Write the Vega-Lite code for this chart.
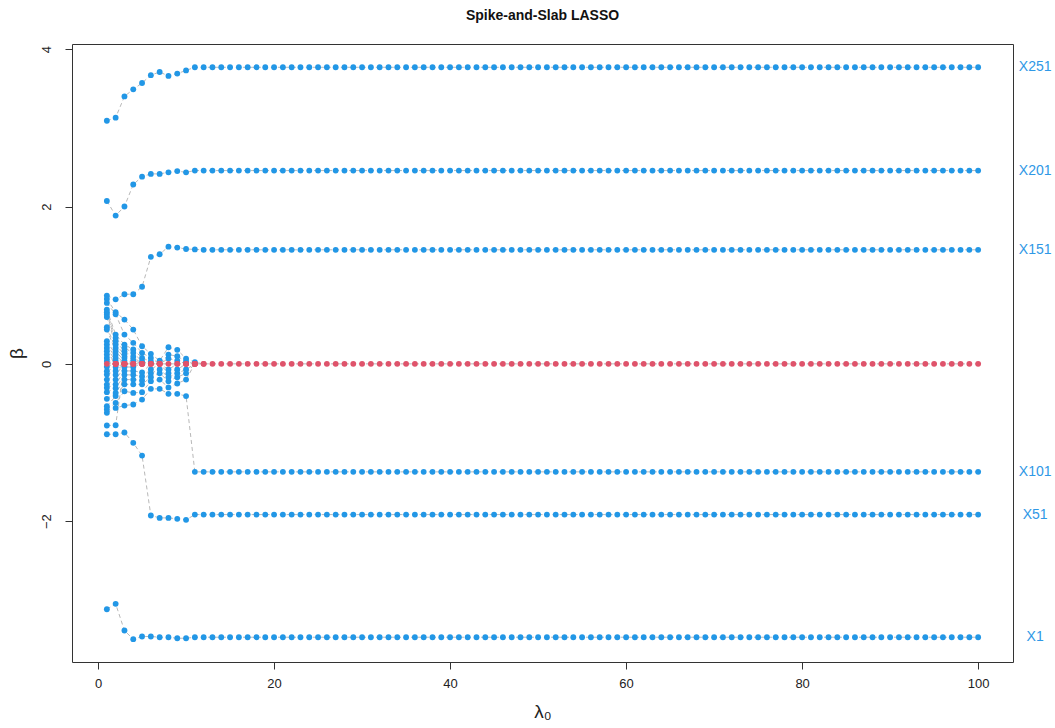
{
  "$schema": "https://vega.github.io/schema/vega-lite/v6.json",
  "autosize": {"type": "none"},
  "padding": {"left": 72, "top": 44, "right": 42, "bottom": 66},
  "width": 941,
  "height": 618,
  "background": "white",
  "config": {
    "font": "Liberation Sans",
    "view": {"stroke": "#333333", "strokeWidth": 1},
    "axis": {"grid": false, "domain": false, "tickColor": "#333333", "tickSize": 7, "labelColor": "#222222", "labelFontSize": 13, "titleColor": "#222222", "titleFontWeight": "normal"}
  },
  "title": {"text": "Spike-and-Slab LASSO", "fontSize": 14, "fontWeight": "bold", "color": "#111111", "anchor": "middle", "frame": "group", "baseline": "alphabetic", "offset": 10},
  "data": {"values": [
    {"lambda":1,"beta":3.09,"coef":"X251"},{"lambda":2,"beta":3.13,"coef":"X251"},{"lambda":3,"beta":3.40,"coef":"X251"},{"lambda":4,"beta":3.49,"coef":"X251"},{"lambda":5,"beta":3.57,"coef":"X251"},{"lambda":6,"beta":3.67,"coef":"X251"},{"lambda":7,"beta":3.71,"coef":"X251"},{"lambda":8,"beta":3.66,"coef":"X251"},{"lambda":9,"beta":3.69,"coef":"X251"},{"lambda":10,"beta":3.73,"coef":"X251"},
    {"lambda":11,"beta":3.77,"coef":"X251"},{"lambda":12,"beta":3.77,"coef":"X251"},{"lambda":13,"beta":3.77,"coef":"X251"},{"lambda":14,"beta":3.77,"coef":"X251"},{"lambda":15,"beta":3.77,"coef":"X251"},{"lambda":16,"beta":3.77,"coef":"X251"},{"lambda":17,"beta":3.77,"coef":"X251"},{"lambda":18,"beta":3.77,"coef":"X251"},{"lambda":19,"beta":3.77,"coef":"X251"},{"lambda":20,"beta":3.77,"coef":"X251"},
    {"lambda":21,"beta":3.77,"coef":"X251"},{"lambda":22,"beta":3.77,"coef":"X251"},{"lambda":23,"beta":3.77,"coef":"X251"},{"lambda":24,"beta":3.77,"coef":"X251"},{"lambda":25,"beta":3.77,"coef":"X251"},{"lambda":26,"beta":3.77,"coef":"X251"},{"lambda":27,"beta":3.77,"coef":"X251"},{"lambda":28,"beta":3.77,"coef":"X251"},{"lambda":29,"beta":3.77,"coef":"X251"},{"lambda":30,"beta":3.77,"coef":"X251"},
    {"lambda":31,"beta":3.77,"coef":"X251"},{"lambda":32,"beta":3.77,"coef":"X251"},{"lambda":33,"beta":3.77,"coef":"X251"},{"lambda":34,"beta":3.77,"coef":"X251"},{"lambda":35,"beta":3.77,"coef":"X251"},{"lambda":36,"beta":3.77,"coef":"X251"},{"lambda":37,"beta":3.77,"coef":"X251"},{"lambda":38,"beta":3.77,"coef":"X251"},{"lambda":39,"beta":3.77,"coef":"X251"},{"lambda":40,"beta":3.77,"coef":"X251"},
    {"lambda":41,"beta":3.77,"coef":"X251"},{"lambda":42,"beta":3.77,"coef":"X251"},{"lambda":43,"beta":3.77,"coef":"X251"},{"lambda":44,"beta":3.77,"coef":"X251"},{"lambda":45,"beta":3.77,"coef":"X251"},{"lambda":46,"beta":3.77,"coef":"X251"},{"lambda":47,"beta":3.77,"coef":"X251"},{"lambda":48,"beta":3.77,"coef":"X251"},{"lambda":49,"beta":3.77,"coef":"X251"},{"lambda":50,"beta":3.77,"coef":"X251"},
    {"lambda":51,"beta":3.77,"coef":"X251"},{"lambda":52,"beta":3.77,"coef":"X251"},{"lambda":53,"beta":3.77,"coef":"X251"},{"lambda":54,"beta":3.77,"coef":"X251"},{"lambda":55,"beta":3.77,"coef":"X251"},{"lambda":56,"beta":3.77,"coef":"X251"},{"lambda":57,"beta":3.77,"coef":"X251"},{"lambda":58,"beta":3.77,"coef":"X251"},{"lambda":59,"beta":3.77,"coef":"X251"},{"lambda":60,"beta":3.77,"coef":"X251"},
    {"lambda":61,"beta":3.77,"coef":"X251"},{"lambda":62,"beta":3.77,"coef":"X251"},{"lambda":63,"beta":3.77,"coef":"X251"},{"lambda":64,"beta":3.77,"coef":"X251"},{"lambda":65,"beta":3.77,"coef":"X251"},{"lambda":66,"beta":3.77,"coef":"X251"},{"lambda":67,"beta":3.77,"coef":"X251"},{"lambda":68,"beta":3.77,"coef":"X251"},{"lambda":69,"beta":3.77,"coef":"X251"},{"lambda":70,"beta":3.77,"coef":"X251"},
    {"lambda":71,"beta":3.77,"coef":"X251"},{"lambda":72,"beta":3.77,"coef":"X251"},{"lambda":73,"beta":3.77,"coef":"X251"},{"lambda":74,"beta":3.77,"coef":"X251"},{"lambda":75,"beta":3.77,"coef":"X251"},{"lambda":76,"beta":3.77,"coef":"X251"},{"lambda":77,"beta":3.77,"coef":"X251"},{"lambda":78,"beta":3.77,"coef":"X251"},{"lambda":79,"beta":3.77,"coef":"X251"},{"lambda":80,"beta":3.77,"coef":"X251"},
    {"lambda":81,"beta":3.77,"coef":"X251"},{"lambda":82,"beta":3.77,"coef":"X251"},{"lambda":83,"beta":3.77,"coef":"X251"},{"lambda":84,"beta":3.77,"coef":"X251"},{"lambda":85,"beta":3.77,"coef":"X251"},{"lambda":86,"beta":3.77,"coef":"X251"},{"lambda":87,"beta":3.77,"coef":"X251"},{"lambda":88,"beta":3.77,"coef":"X251"},{"lambda":89,"beta":3.77,"coef":"X251"},{"lambda":90,"beta":3.77,"coef":"X251"},
    {"lambda":91,"beta":3.77,"coef":"X251"},{"lambda":92,"beta":3.77,"coef":"X251"},{"lambda":93,"beta":3.77,"coef":"X251"},{"lambda":94,"beta":3.77,"coef":"X251"},{"lambda":95,"beta":3.77,"coef":"X251"},{"lambda":96,"beta":3.77,"coef":"X251"},{"lambda":97,"beta":3.77,"coef":"X251"},{"lambda":98,"beta":3.77,"coef":"X251"},{"lambda":99,"beta":3.77,"coef":"X251"},{"lambda":100,"beta":3.77,"coef":"X251"},

    {"lambda":1,"beta":2.07,"coef":"X201"},{"lambda":2,"beta":1.885,"coef":"X201"},{"lambda":3,"beta":2.00,"coef":"X201"},{"lambda":4,"beta":2.28,"coef":"X201"},{"lambda":5,"beta":2.38,"coef":"X201"},{"lambda":6,"beta":2.415,"coef":"X201"},{"lambda":7,"beta":2.415,"coef":"X201"},{"lambda":8,"beta":2.435,"coef":"X201"},{"lambda":9,"beta":2.45,"coef":"X201"},{"lambda":10,"beta":2.435,"coef":"X201"},
    {"lambda":11,"beta":2.457,"coef":"X201"},{"lambda":12,"beta":2.457,"coef":"X201"},{"lambda":13,"beta":2.457,"coef":"X201"},{"lambda":14,"beta":2.457,"coef":"X201"},{"lambda":15,"beta":2.457,"coef":"X201"},{"lambda":16,"beta":2.457,"coef":"X201"},{"lambda":17,"beta":2.457,"coef":"X201"},{"lambda":18,"beta":2.457,"coef":"X201"},{"lambda":19,"beta":2.457,"coef":"X201"},{"lambda":20,"beta":2.457,"coef":"X201"},
    {"lambda":21,"beta":2.457,"coef":"X201"},{"lambda":22,"beta":2.457,"coef":"X201"},{"lambda":23,"beta":2.457,"coef":"X201"},{"lambda":24,"beta":2.457,"coef":"X201"},{"lambda":25,"beta":2.457,"coef":"X201"},{"lambda":26,"beta":2.457,"coef":"X201"},{"lambda":27,"beta":2.457,"coef":"X201"},{"lambda":28,"beta":2.457,"coef":"X201"},{"lambda":29,"beta":2.457,"coef":"X201"},{"lambda":30,"beta":2.457,"coef":"X201"},
    {"lambda":31,"beta":2.457,"coef":"X201"},{"lambda":32,"beta":2.457,"coef":"X201"},{"lambda":33,"beta":2.457,"coef":"X201"},{"lambda":34,"beta":2.457,"coef":"X201"},{"lambda":35,"beta":2.457,"coef":"X201"},{"lambda":36,"beta":2.457,"coef":"X201"},{"lambda":37,"beta":2.457,"coef":"X201"},{"lambda":38,"beta":2.457,"coef":"X201"},{"lambda":39,"beta":2.457,"coef":"X201"},{"lambda":40,"beta":2.457,"coef":"X201"},
    {"lambda":41,"beta":2.457,"coef":"X201"},{"lambda":42,"beta":2.457,"coef":"X201"},{"lambda":43,"beta":2.457,"coef":"X201"},{"lambda":44,"beta":2.457,"coef":"X201"},{"lambda":45,"beta":2.457,"coef":"X201"},{"lambda":46,"beta":2.457,"coef":"X201"},{"lambda":47,"beta":2.457,"coef":"X201"},{"lambda":48,"beta":2.457,"coef":"X201"},{"lambda":49,"beta":2.457,"coef":"X201"},{"lambda":50,"beta":2.457,"coef":"X201"},
    {"lambda":51,"beta":2.457,"coef":"X201"},{"lambda":52,"beta":2.457,"coef":"X201"},{"lambda":53,"beta":2.457,"coef":"X201"},{"lambda":54,"beta":2.457,"coef":"X201"},{"lambda":55,"beta":2.457,"coef":"X201"},{"lambda":56,"beta":2.457,"coef":"X201"},{"lambda":57,"beta":2.457,"coef":"X201"},{"lambda":58,"beta":2.457,"coef":"X201"},{"lambda":59,"beta":2.457,"coef":"X201"},{"lambda":60,"beta":2.457,"coef":"X201"},
    {"lambda":61,"beta":2.457,"coef":"X201"},{"lambda":62,"beta":2.457,"coef":"X201"},{"lambda":63,"beta":2.457,"coef":"X201"},{"lambda":64,"beta":2.457,"coef":"X201"},{"lambda":65,"beta":2.457,"coef":"X201"},{"lambda":66,"beta":2.457,"coef":"X201"},{"lambda":67,"beta":2.457,"coef":"X201"},{"lambda":68,"beta":2.457,"coef":"X201"},{"lambda":69,"beta":2.457,"coef":"X201"},{"lambda":70,"beta":2.457,"coef":"X201"},
    {"lambda":71,"beta":2.457,"coef":"X201"},{"lambda":72,"beta":2.457,"coef":"X201"},{"lambda":73,"beta":2.457,"coef":"X201"},{"lambda":74,"beta":2.457,"coef":"X201"},{"lambda":75,"beta":2.457,"coef":"X201"},{"lambda":76,"beta":2.457,"coef":"X201"},{"lambda":77,"beta":2.457,"coef":"X201"},{"lambda":78,"beta":2.457,"coef":"X201"},{"lambda":79,"beta":2.457,"coef":"X201"},{"lambda":80,"beta":2.457,"coef":"X201"},
    {"lambda":81,"beta":2.457,"coef":"X201"},{"lambda":82,"beta":2.457,"coef":"X201"},{"lambda":83,"beta":2.457,"coef":"X201"},{"lambda":84,"beta":2.457,"coef":"X201"},{"lambda":85,"beta":2.457,"coef":"X201"},{"lambda":86,"beta":2.457,"coef":"X201"},{"lambda":87,"beta":2.457,"coef":"X201"},{"lambda":88,"beta":2.457,"coef":"X201"},{"lambda":89,"beta":2.457,"coef":"X201"},{"lambda":90,"beta":2.457,"coef":"X201"},
    {"lambda":91,"beta":2.457,"coef":"X201"},{"lambda":92,"beta":2.457,"coef":"X201"},{"lambda":93,"beta":2.457,"coef":"X201"},{"lambda":94,"beta":2.457,"coef":"X201"},{"lambda":95,"beta":2.457,"coef":"X201"},{"lambda":96,"beta":2.457,"coef":"X201"},{"lambda":97,"beta":2.457,"coef":"X201"},{"lambda":98,"beta":2.457,"coef":"X201"},{"lambda":99,"beta":2.457,"coef":"X201"},{"lambda":100,"beta":2.457,"coef":"X201"},

    {"lambda":1,"beta":0.868,"coef":"X151"},{"lambda":2,"beta":0.82,"coef":"X151"},{"lambda":3,"beta":0.885,"coef":"X151"},{"lambda":4,"beta":0.885,"coef":"X151"},{"lambda":5,"beta":0.98,"coef":"X151"},{"lambda":6,"beta":1.36,"coef":"X151"},{"lambda":7,"beta":1.393,"coef":"X151"},{"lambda":8,"beta":1.49,"coef":"X151"},{"lambda":9,"beta":1.478,"coef":"X151"},{"lambda":10,"beta":1.46,"coef":"X151"},
    {"lambda":11,"beta":1.455,"coef":"X151"},{"lambda":12,"beta":1.45,"coef":"X151"},{"lambda":13,"beta":1.45,"coef":"X151"},{"lambda":14,"beta":1.45,"coef":"X151"},{"lambda":15,"beta":1.45,"coef":"X151"},{"lambda":16,"beta":1.45,"coef":"X151"},{"lambda":17,"beta":1.45,"coef":"X151"},{"lambda":18,"beta":1.45,"coef":"X151"},{"lambda":19,"beta":1.45,"coef":"X151"},{"lambda":20,"beta":1.45,"coef":"X151"},
    {"lambda":21,"beta":1.45,"coef":"X151"},{"lambda":22,"beta":1.45,"coef":"X151"},{"lambda":23,"beta":1.45,"coef":"X151"},{"lambda":24,"beta":1.45,"coef":"X151"},{"lambda":25,"beta":1.45,"coef":"X151"},{"lambda":26,"beta":1.45,"coef":"X151"},{"lambda":27,"beta":1.45,"coef":"X151"},{"lambda":28,"beta":1.45,"coef":"X151"},{"lambda":29,"beta":1.45,"coef":"X151"},{"lambda":30,"beta":1.45,"coef":"X151"},
    {"lambda":31,"beta":1.45,"coef":"X151"},{"lambda":32,"beta":1.45,"coef":"X151"},{"lambda":33,"beta":1.45,"coef":"X151"},{"lambda":34,"beta":1.45,"coef":"X151"},{"lambda":35,"beta":1.45,"coef":"X151"},{"lambda":36,"beta":1.45,"coef":"X151"},{"lambda":37,"beta":1.45,"coef":"X151"},{"lambda":38,"beta":1.45,"coef":"X151"},{"lambda":39,"beta":1.45,"coef":"X151"},{"lambda":40,"beta":1.45,"coef":"X151"},
    {"lambda":41,"beta":1.45,"coef":"X151"},{"lambda":42,"beta":1.45,"coef":"X151"},{"lambda":43,"beta":1.45,"coef":"X151"},{"lambda":44,"beta":1.45,"coef":"X151"},{"lambda":45,"beta":1.45,"coef":"X151"},{"lambda":46,"beta":1.45,"coef":"X151"},{"lambda":47,"beta":1.45,"coef":"X151"},{"lambda":48,"beta":1.45,"coef":"X151"},{"lambda":49,"beta":1.45,"coef":"X151"},{"lambda":50,"beta":1.45,"coef":"X151"},
    {"lambda":51,"beta":1.45,"coef":"X151"},{"lambda":52,"beta":1.45,"coef":"X151"},{"lambda":53,"beta":1.45,"coef":"X151"},{"lambda":54,"beta":1.45,"coef":"X151"},{"lambda":55,"beta":1.45,"coef":"X151"},{"lambda":56,"beta":1.45,"coef":"X151"},{"lambda":57,"beta":1.45,"coef":"X151"},{"lambda":58,"beta":1.45,"coef":"X151"},{"lambda":59,"beta":1.45,"coef":"X151"},{"lambda":60,"beta":1.45,"coef":"X151"},
    {"lambda":61,"beta":1.45,"coef":"X151"},{"lambda":62,"beta":1.45,"coef":"X151"},{"lambda":63,"beta":1.45,"coef":"X151"},{"lambda":64,"beta":1.45,"coef":"X151"},{"lambda":65,"beta":1.45,"coef":"X151"},{"lambda":66,"beta":1.45,"coef":"X151"},{"lambda":67,"beta":1.45,"coef":"X151"},{"lambda":68,"beta":1.45,"coef":"X151"},{"lambda":69,"beta":1.45,"coef":"X151"},{"lambda":70,"beta":1.45,"coef":"X151"},
    {"lambda":71,"beta":1.45,"coef":"X151"},{"lambda":72,"beta":1.45,"coef":"X151"},{"lambda":73,"beta":1.45,"coef":"X151"},{"lambda":74,"beta":1.45,"coef":"X151"},{"lambda":75,"beta":1.45,"coef":"X151"},{"lambda":76,"beta":1.45,"coef":"X151"},{"lambda":77,"beta":1.45,"coef":"X151"},{"lambda":78,"beta":1.45,"coef":"X151"},{"lambda":79,"beta":1.45,"coef":"X151"},{"lambda":80,"beta":1.45,"coef":"X151"},
    {"lambda":81,"beta":1.45,"coef":"X151"},{"lambda":82,"beta":1.45,"coef":"X151"},{"lambda":83,"beta":1.45,"coef":"X151"},{"lambda":84,"beta":1.45,"coef":"X151"},{"lambda":85,"beta":1.45,"coef":"X151"},{"lambda":86,"beta":1.45,"coef":"X151"},{"lambda":87,"beta":1.45,"coef":"X151"},{"lambda":88,"beta":1.45,"coef":"X151"},{"lambda":89,"beta":1.45,"coef":"X151"},{"lambda":90,"beta":1.45,"coef":"X151"},
    {"lambda":91,"beta":1.45,"coef":"X151"},{"lambda":92,"beta":1.45,"coef":"X151"},{"lambda":93,"beta":1.45,"coef":"X151"},{"lambda":94,"beta":1.45,"coef":"X151"},{"lambda":95,"beta":1.45,"coef":"X151"},{"lambda":96,"beta":1.45,"coef":"X151"},{"lambda":97,"beta":1.45,"coef":"X151"},{"lambda":98,"beta":1.45,"coef":"X151"},{"lambda":99,"beta":1.45,"coef":"X151"},{"lambda":100,"beta":1.45,"coef":"X151"},

    {"lambda":1,"beta":-0.623,"coef":"X101"},{"lambda":2,"beta":-0.56,"coef":"X101"},{"lambda":3,"beta":-0.53,"coef":"X101"},{"lambda":4,"beta":-0.517,"coef":"X101"},{"lambda":5,"beta":-0.454,"coef":"X101"},{"lambda":6,"beta":-0.318,"coef":"X101"},{"lambda":7,"beta":-0.318,"coef":"X101"},{"lambda":8,"beta":-0.381,"coef":"X101"},{"lambda":9,"beta":-0.381,"coef":"X101"},{"lambda":10,"beta":-0.41,"coef":"X101"},
    {"lambda":11,"beta":-1.373,"coef":"X101"},{"lambda":12,"beta":-1.373,"coef":"X101"},{"lambda":13,"beta":-1.373,"coef":"X101"},{"lambda":14,"beta":-1.373,"coef":"X101"},{"lambda":15,"beta":-1.373,"coef":"X101"},{"lambda":16,"beta":-1.373,"coef":"X101"},{"lambda":17,"beta":-1.373,"coef":"X101"},{"lambda":18,"beta":-1.373,"coef":"X101"},{"lambda":19,"beta":-1.373,"coef":"X101"},{"lambda":20,"beta":-1.373,"coef":"X101"},
    {"lambda":21,"beta":-1.373,"coef":"X101"},{"lambda":22,"beta":-1.373,"coef":"X101"},{"lambda":23,"beta":-1.373,"coef":"X101"},{"lambda":24,"beta":-1.373,"coef":"X101"},{"lambda":25,"beta":-1.373,"coef":"X101"},{"lambda":26,"beta":-1.373,"coef":"X101"},{"lambda":27,"beta":-1.373,"coef":"X101"},{"lambda":28,"beta":-1.373,"coef":"X101"},{"lambda":29,"beta":-1.373,"coef":"X101"},{"lambda":30,"beta":-1.373,"coef":"X101"},
    {"lambda":31,"beta":-1.373,"coef":"X101"},{"lambda":32,"beta":-1.373,"coef":"X101"},{"lambda":33,"beta":-1.373,"coef":"X101"},{"lambda":34,"beta":-1.373,"coef":"X101"},{"lambda":35,"beta":-1.373,"coef":"X101"},{"lambda":36,"beta":-1.373,"coef":"X101"},{"lambda":37,"beta":-1.373,"coef":"X101"},{"lambda":38,"beta":-1.373,"coef":"X101"},{"lambda":39,"beta":-1.373,"coef":"X101"},{"lambda":40,"beta":-1.373,"coef":"X101"},
    {"lambda":41,"beta":-1.373,"coef":"X101"},{"lambda":42,"beta":-1.373,"coef":"X101"},{"lambda":43,"beta":-1.373,"coef":"X101"},{"lambda":44,"beta":-1.373,"coef":"X101"},{"lambda":45,"beta":-1.373,"coef":"X101"},{"lambda":46,"beta":-1.373,"coef":"X101"},{"lambda":47,"beta":-1.373,"coef":"X101"},{"lambda":48,"beta":-1.373,"coef":"X101"},{"lambda":49,"beta":-1.373,"coef":"X101"},{"lambda":50,"beta":-1.373,"coef":"X101"},
    {"lambda":51,"beta":-1.373,"coef":"X101"},{"lambda":52,"beta":-1.373,"coef":"X101"},{"lambda":53,"beta":-1.373,"coef":"X101"},{"lambda":54,"beta":-1.373,"coef":"X101"},{"lambda":55,"beta":-1.373,"coef":"X101"},{"lambda":56,"beta":-1.373,"coef":"X101"},{"lambda":57,"beta":-1.373,"coef":"X101"},{"lambda":58,"beta":-1.373,"coef":"X101"},{"lambda":59,"beta":-1.373,"coef":"X101"},{"lambda":60,"beta":-1.373,"coef":"X101"},
    {"lambda":61,"beta":-1.373,"coef":"X101"},{"lambda":62,"beta":-1.373,"coef":"X101"},{"lambda":63,"beta":-1.373,"coef":"X101"},{"lambda":64,"beta":-1.373,"coef":"X101"},{"lambda":65,"beta":-1.373,"coef":"X101"},{"lambda":66,"beta":-1.373,"coef":"X101"},{"lambda":67,"beta":-1.373,"coef":"X101"},{"lambda":68,"beta":-1.373,"coef":"X101"},{"lambda":69,"beta":-1.373,"coef":"X101"},{"lambda":70,"beta":-1.373,"coef":"X101"},
    {"lambda":71,"beta":-1.373,"coef":"X101"},{"lambda":72,"beta":-1.373,"coef":"X101"},{"lambda":73,"beta":-1.373,"coef":"X101"},{"lambda":74,"beta":-1.373,"coef":"X101"},{"lambda":75,"beta":-1.373,"coef":"X101"},{"lambda":76,"beta":-1.373,"coef":"X101"},{"lambda":77,"beta":-1.373,"coef":"X101"},{"lambda":78,"beta":-1.373,"coef":"X101"},{"lambda":79,"beta":-1.373,"coef":"X101"},{"lambda":80,"beta":-1.373,"coef":"X101"},
    {"lambda":81,"beta":-1.373,"coef":"X101"},{"lambda":82,"beta":-1.373,"coef":"X101"},{"lambda":83,"beta":-1.373,"coef":"X101"},{"lambda":84,"beta":-1.373,"coef":"X101"},{"lambda":85,"beta":-1.373,"coef":"X101"},{"lambda":86,"beta":-1.373,"coef":"X101"},{"lambda":87,"beta":-1.373,"coef":"X101"},{"lambda":88,"beta":-1.373,"coef":"X101"},{"lambda":89,"beta":-1.373,"coef":"X101"},{"lambda":90,"beta":-1.373,"coef":"X101"},
    {"lambda":91,"beta":-1.373,"coef":"X101"},{"lambda":92,"beta":-1.373,"coef":"X101"},{"lambda":93,"beta":-1.373,"coef":"X101"},{"lambda":94,"beta":-1.373,"coef":"X101"},{"lambda":95,"beta":-1.373,"coef":"X101"},{"lambda":96,"beta":-1.373,"coef":"X101"},{"lambda":97,"beta":-1.373,"coef":"X101"},{"lambda":98,"beta":-1.373,"coef":"X101"},{"lambda":99,"beta":-1.373,"coef":"X101"},{"lambda":100,"beta":-1.373,"coef":"X101"},

    {"lambda":1,"beta":-0.895,"coef":"X51"},{"lambda":2,"beta":-0.895,"coef":"X51"},{"lambda":3,"beta":-0.873,"coef":"X51"},{"lambda":4,"beta":-1.004,"coef":"X51"},{"lambda":5,"beta":-1.166,"coef":"X51"},{"lambda":6,"beta":-1.928,"coef":"X51"},{"lambda":7,"beta":-1.958,"coef":"X51"},{"lambda":8,"beta":-1.958,"coef":"X51"},{"lambda":9,"beta":-1.97,"coef":"X51"},{"lambda":10,"beta":-1.983,"coef":"X51"},
    {"lambda":11,"beta":-1.916,"coef":"X51"},{"lambda":12,"beta":-1.916,"coef":"X51"},{"lambda":13,"beta":-1.916,"coef":"X51"},{"lambda":14,"beta":-1.916,"coef":"X51"},{"lambda":15,"beta":-1.916,"coef":"X51"},{"lambda":16,"beta":-1.916,"coef":"X51"},{"lambda":17,"beta":-1.916,"coef":"X51"},{"lambda":18,"beta":-1.916,"coef":"X51"},{"lambda":19,"beta":-1.916,"coef":"X51"},{"lambda":20,"beta":-1.916,"coef":"X51"},
    {"lambda":21,"beta":-1.916,"coef":"X51"},{"lambda":22,"beta":-1.916,"coef":"X51"},{"lambda":23,"beta":-1.916,"coef":"X51"},{"lambda":24,"beta":-1.916,"coef":"X51"},{"lambda":25,"beta":-1.916,"coef":"X51"},{"lambda":26,"beta":-1.916,"coef":"X51"},{"lambda":27,"beta":-1.916,"coef":"X51"},{"lambda":28,"beta":-1.916,"coef":"X51"},{"lambda":29,"beta":-1.916,"coef":"X51"},{"lambda":30,"beta":-1.916,"coef":"X51"},
    {"lambda":31,"beta":-1.916,"coef":"X51"},{"lambda":32,"beta":-1.916,"coef":"X51"},{"lambda":33,"beta":-1.916,"coef":"X51"},{"lambda":34,"beta":-1.916,"coef":"X51"},{"lambda":35,"beta":-1.916,"coef":"X51"},{"lambda":36,"beta":-1.916,"coef":"X51"},{"lambda":37,"beta":-1.916,"coef":"X51"},{"lambda":38,"beta":-1.916,"coef":"X51"},{"lambda":39,"beta":-1.916,"coef":"X51"},{"lambda":40,"beta":-1.916,"coef":"X51"},
    {"lambda":41,"beta":-1.916,"coef":"X51"},{"lambda":42,"beta":-1.916,"coef":"X51"},{"lambda":43,"beta":-1.916,"coef":"X51"},{"lambda":44,"beta":-1.916,"coef":"X51"},{"lambda":45,"beta":-1.916,"coef":"X51"},{"lambda":46,"beta":-1.916,"coef":"X51"},{"lambda":47,"beta":-1.916,"coef":"X51"},{"lambda":48,"beta":-1.916,"coef":"X51"},{"lambda":49,"beta":-1.916,"coef":"X51"},{"lambda":50,"beta":-1.916,"coef":"X51"},
    {"lambda":51,"beta":-1.916,"coef":"X51"},{"lambda":52,"beta":-1.916,"coef":"X51"},{"lambda":53,"beta":-1.916,"coef":"X51"},{"lambda":54,"beta":-1.916,"coef":"X51"},{"lambda":55,"beta":-1.916,"coef":"X51"},{"lambda":56,"beta":-1.916,"coef":"X51"},{"lambda":57,"beta":-1.916,"coef":"X51"},{"lambda":58,"beta":-1.916,"coef":"X51"},{"lambda":59,"beta":-1.916,"coef":"X51"},{"lambda":60,"beta":-1.916,"coef":"X51"},
    {"lambda":61,"beta":-1.916,"coef":"X51"},{"lambda":62,"beta":-1.916,"coef":"X51"},{"lambda":63,"beta":-1.916,"coef":"X51"},{"lambda":64,"beta":-1.916,"coef":"X51"},{"lambda":65,"beta":-1.916,"coef":"X51"},{"lambda":66,"beta":-1.916,"coef":"X51"},{"lambda":67,"beta":-1.916,"coef":"X51"},{"lambda":68,"beta":-1.916,"coef":"X51"},{"lambda":69,"beta":-1.916,"coef":"X51"},{"lambda":70,"beta":-1.916,"coef":"X51"},
    {"lambda":71,"beta":-1.916,"coef":"X51"},{"lambda":72,"beta":-1.916,"coef":"X51"},{"lambda":73,"beta":-1.916,"coef":"X51"},{"lambda":74,"beta":-1.916,"coef":"X51"},{"lambda":75,"beta":-1.916,"coef":"X51"},{"lambda":76,"beta":-1.916,"coef":"X51"},{"lambda":77,"beta":-1.916,"coef":"X51"},{"lambda":78,"beta":-1.916,"coef":"X51"},{"lambda":79,"beta":-1.916,"coef":"X51"},{"lambda":80,"beta":-1.916,"coef":"X51"},
    {"lambda":81,"beta":-1.916,"coef":"X51"},{"lambda":82,"beta":-1.916,"coef":"X51"},{"lambda":83,"beta":-1.916,"coef":"X51"},{"lambda":84,"beta":-1.916,"coef":"X51"},{"lambda":85,"beta":-1.916,"coef":"X51"},{"lambda":86,"beta":-1.916,"coef":"X51"},{"lambda":87,"beta":-1.916,"coef":"X51"},{"lambda":88,"beta":-1.916,"coef":"X51"},{"lambda":89,"beta":-1.916,"coef":"X51"},{"lambda":90,"beta":-1.916,"coef":"X51"},
    {"lambda":91,"beta":-1.916,"coef":"X51"},{"lambda":92,"beta":-1.916,"coef":"X51"},{"lambda":93,"beta":-1.916,"coef":"X51"},{"lambda":94,"beta":-1.916,"coef":"X51"},{"lambda":95,"beta":-1.916,"coef":"X51"},{"lambda":96,"beta":-1.916,"coef":"X51"},{"lambda":97,"beta":-1.916,"coef":"X51"},{"lambda":98,"beta":-1.916,"coef":"X51"},{"lambda":99,"beta":-1.916,"coef":"X51"},{"lambda":100,"beta":-1.916,"coef":"X51"},

    {"lambda":1,"beta":-3.119,"coef":"X1"},{"lambda":2,"beta":-3.051,"coef":"X1"},{"lambda":3,"beta":-3.39,"coef":"X1"},{"lambda":4,"beta":-3.50,"coef":"X1"},{"lambda":5,"beta":-3.466,"coef":"X1"},{"lambda":6,"beta":-3.466,"coef":"X1"},{"lambda":7,"beta":-3.475,"coef":"X1"},{"lambda":8,"beta":-3.475,"coef":"X1"},{"lambda":9,"beta":-3.488,"coef":"X1"},{"lambda":10,"beta":-3.488,"coef":"X1"},
    {"lambda":11,"beta":-3.475,"coef":"X1"},{"lambda":12,"beta":-3.475,"coef":"X1"},{"lambda":13,"beta":-3.475,"coef":"X1"},{"lambda":14,"beta":-3.475,"coef":"X1"},{"lambda":15,"beta":-3.475,"coef":"X1"},{"lambda":16,"beta":-3.475,"coef":"X1"},{"lambda":17,"beta":-3.475,"coef":"X1"},{"lambda":18,"beta":-3.475,"coef":"X1"},{"lambda":19,"beta":-3.475,"coef":"X1"},{"lambda":20,"beta":-3.475,"coef":"X1"},
    {"lambda":21,"beta":-3.475,"coef":"X1"},{"lambda":22,"beta":-3.475,"coef":"X1"},{"lambda":23,"beta":-3.475,"coef":"X1"},{"lambda":24,"beta":-3.475,"coef":"X1"},{"lambda":25,"beta":-3.475,"coef":"X1"},{"lambda":26,"beta":-3.475,"coef":"X1"},{"lambda":27,"beta":-3.475,"coef":"X1"},{"lambda":28,"beta":-3.475,"coef":"X1"},{"lambda":29,"beta":-3.475,"coef":"X1"},{"lambda":30,"beta":-3.475,"coef":"X1"},
    {"lambda":31,"beta":-3.475,"coef":"X1"},{"lambda":32,"beta":-3.475,"coef":"X1"},{"lambda":33,"beta":-3.475,"coef":"X1"},{"lambda":34,"beta":-3.475,"coef":"X1"},{"lambda":35,"beta":-3.475,"coef":"X1"},{"lambda":36,"beta":-3.475,"coef":"X1"},{"lambda":37,"beta":-3.475,"coef":"X1"},{"lambda":38,"beta":-3.475,"coef":"X1"},{"lambda":39,"beta":-3.475,"coef":"X1"},{"lambda":40,"beta":-3.475,"coef":"X1"},
    {"lambda":41,"beta":-3.475,"coef":"X1"},{"lambda":42,"beta":-3.475,"coef":"X1"},{"lambda":43,"beta":-3.475,"coef":"X1"},{"lambda":44,"beta":-3.475,"coef":"X1"},{"lambda":45,"beta":-3.475,"coef":"X1"},{"lambda":46,"beta":-3.475,"coef":"X1"},{"lambda":47,"beta":-3.475,"coef":"X1"},{"lambda":48,"beta":-3.475,"coef":"X1"},{"lambda":49,"beta":-3.475,"coef":"X1"},{"lambda":50,"beta":-3.475,"coef":"X1"},
    {"lambda":51,"beta":-3.475,"coef":"X1"},{"lambda":52,"beta":-3.475,"coef":"X1"},{"lambda":53,"beta":-3.475,"coef":"X1"},{"lambda":54,"beta":-3.475,"coef":"X1"},{"lambda":55,"beta":-3.475,"coef":"X1"},{"lambda":56,"beta":-3.475,"coef":"X1"},{"lambda":57,"beta":-3.475,"coef":"X1"},{"lambda":58,"beta":-3.475,"coef":"X1"},{"lambda":59,"beta":-3.475,"coef":"X1"},{"lambda":60,"beta":-3.475,"coef":"X1"},
    {"lambda":61,"beta":-3.475,"coef":"X1"},{"lambda":62,"beta":-3.475,"coef":"X1"},{"lambda":63,"beta":-3.475,"coef":"X1"},{"lambda":64,"beta":-3.475,"coef":"X1"},{"lambda":65,"beta":-3.475,"coef":"X1"},{"lambda":66,"beta":-3.475,"coef":"X1"},{"lambda":67,"beta":-3.475,"coef":"X1"},{"lambda":68,"beta":-3.475,"coef":"X1"},{"lambda":69,"beta":-3.475,"coef":"X1"},{"lambda":70,"beta":-3.475,"coef":"X1"},
    {"lambda":71,"beta":-3.475,"coef":"X1"},{"lambda":72,"beta":-3.475,"coef":"X1"},{"lambda":73,"beta":-3.475,"coef":"X1"},{"lambda":74,"beta":-3.475,"coef":"X1"},{"lambda":75,"beta":-3.475,"coef":"X1"},{"lambda":76,"beta":-3.475,"coef":"X1"},{"lambda":77,"beta":-3.475,"coef":"X1"},{"lambda":78,"beta":-3.475,"coef":"X1"},{"lambda":79,"beta":-3.475,"coef":"X1"},{"lambda":80,"beta":-3.475,"coef":"X1"},
    {"lambda":81,"beta":-3.475,"coef":"X1"},{"lambda":82,"beta":-3.475,"coef":"X1"},{"lambda":83,"beta":-3.475,"coef":"X1"},{"lambda":84,"beta":-3.475,"coef":"X1"},{"lambda":85,"beta":-3.475,"coef":"X1"},{"lambda":86,"beta":-3.475,"coef":"X1"},{"lambda":87,"beta":-3.475,"coef":"X1"},{"lambda":88,"beta":-3.475,"coef":"X1"},{"lambda":89,"beta":-3.475,"coef":"X1"},{"lambda":90,"beta":-3.475,"coef":"X1"},
    {"lambda":91,"beta":-3.475,"coef":"X1"},{"lambda":92,"beta":-3.475,"coef":"X1"},{"lambda":93,"beta":-3.475,"coef":"X1"},{"lambda":94,"beta":-3.475,"coef":"X1"},{"lambda":95,"beta":-3.475,"coef":"X1"},{"lambda":96,"beta":-3.475,"coef":"X1"},{"lambda":97,"beta":-3.475,"coef":"X1"},{"lambda":98,"beta":-3.475,"coef":"X1"},{"lambda":99,"beta":-3.475,"coef":"X1"},{"lambda":100,"beta":-3.475,"coef":"X1"},

    {"lambda":1,"beta":0.826,"coef":"P1"},{"lambda":2,"beta":0.656,"coef":"P1"},{"lambda":3,"beta":0.563,"coef":"P1"},{"lambda":4,"beta":0.436,"coef":"P1"},{"lambda":5,"beta":0.224,"coef":"P1"},{"lambda":6,"beta":0.127,"coef":"P1"},{"lambda":7,"beta":0.04,"coef":"P1"},{"lambda":8,"beta":0.211,"coef":"P1"},{"lambda":9,"beta":0.178,"coef":"P1"},{"lambda":10,"beta":0.067,"coef":"P1"},{"lambda":11,"beta":0.02,"coef":"P1"},{"lambda":12,"beta":0,"coef":"P1"},
    {"lambda":1,"beta":0.775,"coef":"P2"},{"lambda":2,"beta":0.63,"coef":"P2"},{"lambda":3,"beta":0.372,"coef":"P2"},{"lambda":4,"beta":0.267,"coef":"P2"},{"lambda":5,"beta":0.14,"coef":"P2"},{"lambda":6,"beta":0.076,"coef":"P2"},{"lambda":7,"beta":0,"coef":"P2"},{"lambda":8,"beta":0.118,"coef":"P2"},{"lambda":9,"beta":0.097,"coef":"P2"},{"lambda":10,"beta":0.03,"coef":"P2"},{"lambda":11,"beta":0,"coef":"P2"},
    {"lambda":1,"beta":0.69,"coef":"P3"},{"lambda":2,"beta":0.372,"coef":"P3"},{"lambda":3,"beta":0.245,"coef":"P3"},{"lambda":4,"beta":0.182,"coef":"P3"},{"lambda":5,"beta":0.076,"coef":"P3"},{"lambda":6,"beta":0.03,"coef":"P3"},{"lambda":7,"beta":0,"coef":"P3"},{"lambda":8,"beta":0.067,"coef":"P3"},{"lambda":9,"beta":0.04,"coef":"P3"},{"lambda":10,"beta":0,"coef":"P3"},
    {"lambda":1,"beta":0.656,"coef":"P4"},{"lambda":2,"beta":0.33,"coef":"P4"},{"lambda":3,"beta":0.203,"coef":"P4"},{"lambda":4,"beta":0.14,"coef":"P4"},{"lambda":5,"beta":0.03,"coef":"P4"},{"lambda":6,"beta":0,"coef":"P4"},
    {"lambda":1,"beta":0.627,"coef":"P5"},{"lambda":2,"beta":0.288,"coef":"P5"},{"lambda":3,"beta":0.161,"coef":"P5"},{"lambda":4,"beta":0.09,"coef":"P5"},{"lambda":5,"beta":0,"coef":"P5"},
    {"lambda":1,"beta":0.595,"coef":"P6"},{"lambda":2,"beta":0.245,"coef":"P6"},{"lambda":3,"beta":0.118,"coef":"P6"},{"lambda":4,"beta":0.045,"coef":"P6"},{"lambda":5,"beta":0,"coef":"P6"},
    {"lambda":1,"beta":0.466,"coef":"P7"},{"lambda":2,"beta":0.203,"coef":"P7"},{"lambda":3,"beta":0.076,"coef":"P7"},{"lambda":4,"beta":0,"coef":"P7"},
    {"lambda":1,"beta":0.436,"coef":"P8"},{"lambda":2,"beta":0.161,"coef":"P8"},{"lambda":3,"beta":0.035,"coef":"P8"},{"lambda":4,"beta":0,"coef":"P8"},
    {"lambda":1,"beta":0.288,"coef":"P9"},{"lambda":2,"beta":0.118,"coef":"P9"},{"lambda":3,"beta":0,"coef":"P9"},
    {"lambda":1,"beta":0.245,"coef":"P10"},{"lambda":2,"beta":0.076,"coef":"P10"},{"lambda":3,"beta":0,"coef":"P10"},
    {"lambda":1,"beta":0.203,"coef":"P11"},{"lambda":2,"beta":0.035,"coef":"P11"},{"lambda":3,"beta":0,"coef":"P11"},
    {"lambda":1,"beta":0.161,"coef":"P12"},{"lambda":2,"beta":0,"coef":"P12"},
    {"lambda":1,"beta":0.118,"coef":"P13"},{"lambda":2,"beta":0,"coef":"P13"},
    {"lambda":1,"beta":0.076,"coef":"P14"},{"lambda":2,"beta":0,"coef":"P14"},
    {"lambda":1,"beta":0.035,"coef":"P15"},{"lambda":2,"beta":0,"coef":"P15"},
    {"lambda":1,"beta":-0.784,"coef":"N1"},{"lambda":2,"beta":-0.78,"coef":"N1"},{"lambda":3,"beta":0,"coef":"N1"},
    {"lambda":1,"beta":-0.58,"coef":"N2"},{"lambda":2,"beta":-0.496,"coef":"N2"},{"lambda":3,"beta":-0.348,"coef":"N2"},{"lambda":4,"beta":-0.369,"coef":"N2"},{"lambda":5,"beta":-0.36,"coef":"N2"},{"lambda":6,"beta":-0.22,"coef":"N2"},{"lambda":7,"beta":-0.2,"coef":"N2"},{"lambda":8,"beta":-0.3,"coef":"N2"},{"lambda":9,"beta":-0.25,"coef":"N2"},{"lambda":10,"beta":-0.2,"coef":"N2"},{"lambda":11,"beta":0,"coef":"N2"},
    {"lambda":1,"beta":-0.539,"coef":"N3"},{"lambda":2,"beta":-0.41,"coef":"N3"},{"lambda":3,"beta":-0.26,"coef":"N3"},{"lambda":4,"beta":-0.26,"coef":"N3"},{"lambda":5,"beta":-0.26,"coef":"N3"},{"lambda":6,"beta":-0.17,"coef":"N3"},{"lambda":7,"beta":-0.12,"coef":"N3"},{"lambda":8,"beta":-0.22,"coef":"N3"},{"lambda":9,"beta":-0.17,"coef":"N3"},{"lambda":10,"beta":-0.12,"coef":"N3"},{"lambda":11,"beta":0,"coef":"N3"},
    {"lambda":1,"beta":-0.445,"coef":"N4"},{"lambda":2,"beta":-0.369,"coef":"N4"},{"lambda":3,"beta":-0.2,"coef":"N4"},{"lambda":4,"beta":-0.2,"coef":"N4"},{"lambda":5,"beta":-0.21,"coef":"N4"},{"lambda":6,"beta":-0.12,"coef":"N4"},{"lambda":7,"beta":-0.072,"coef":"N4"},{"lambda":8,"beta":-0.17,"coef":"N4"},{"lambda":9,"beta":-0.12,"coef":"N4"},{"lambda":10,"beta":-0.072,"coef":"N4"},{"lambda":11,"beta":0,"coef":"N4"},
    {"lambda":1,"beta":-0.36,"coef":"N5"},{"lambda":2,"beta":-0.31,"coef":"N5"},{"lambda":3,"beta":-0.14,"coef":"N5"},{"lambda":4,"beta":-0.14,"coef":"N5"},{"lambda":5,"beta":-0.16,"coef":"N5"},{"lambda":6,"beta":-0.072,"coef":"N5"},{"lambda":7,"beta":0,"coef":"N5"},{"lambda":8,"beta":-0.12,"coef":"N5"},{"lambda":9,"beta":-0.072,"coef":"N5"},{"lambda":10,"beta":0,"coef":"N5"},
    {"lambda":1,"beta":-0.305,"coef":"N6"},{"lambda":2,"beta":-0.26,"coef":"N6"},{"lambda":3,"beta":-0.09,"coef":"N6"},{"lambda":4,"beta":-0.09,"coef":"N6"},{"lambda":5,"beta":-0.11,"coef":"N6"},{"lambda":6,"beta":0,"coef":"N6"},{"lambda":7,"beta":0,"coef":"N6"},{"lambda":8,"beta":-0.072,"coef":"N6"},{"lambda":9,"beta":0,"coef":"N6"},
    {"lambda":1,"beta":-0.263,"coef":"N7"},{"lambda":2,"beta":-0.2,"coef":"N7"},{"lambda":3,"beta":-0.04,"coef":"N7"},{"lambda":4,"beta":-0.04,"coef":"N7"},{"lambda":5,"beta":0,"coef":"N7"},
    {"lambda":1,"beta":-0.2,"coef":"N8"},{"lambda":2,"beta":-0.14,"coef":"N8"},{"lambda":3,"beta":0,"coef":"N8"},
    {"lambda":1,"beta":-0.136,"coef":"N9"},{"lambda":2,"beta":-0.09,"coef":"N9"},{"lambda":3,"beta":0,"coef":"N9"},
    {"lambda":1,"beta":-0.094,"coef":"N10"},{"lambda":2,"beta":-0.04,"coef":"N10"},{"lambda":3,"beta":0,"coef":"N10"},
    {"lambda":1,"beta":-0.038,"coef":"N11"},{"lambda":2,"beta":0,"coef":"N11"},

    {"lambda":1,"beta":0,"coef":"Z"},{"lambda":2,"beta":0,"coef":"Z"},{"lambda":3,"beta":0,"coef":"Z"},{"lambda":4,"beta":0,"coef":"Z"},{"lambda":5,"beta":0,"coef":"Z"},{"lambda":6,"beta":0,"coef":"Z"},{"lambda":7,"beta":0,"coef":"Z"},{"lambda":8,"beta":0,"coef":"Z"},{"lambda":9,"beta":0,"coef":"Z"},{"lambda":10,"beta":0,"coef":"Z"},
    {"lambda":11,"beta":0,"coef":"Z"},{"lambda":12,"beta":0,"coef":"Z"},{"lambda":13,"beta":0,"coef":"Z"},{"lambda":14,"beta":0,"coef":"Z"},{"lambda":15,"beta":0,"coef":"Z"},{"lambda":16,"beta":0,"coef":"Z"},{"lambda":17,"beta":0,"coef":"Z"},{"lambda":18,"beta":0,"coef":"Z"},{"lambda":19,"beta":0,"coef":"Z"},{"lambda":20,"beta":0,"coef":"Z"},
    {"lambda":21,"beta":0,"coef":"Z"},{"lambda":22,"beta":0,"coef":"Z"},{"lambda":23,"beta":0,"coef":"Z"},{"lambda":24,"beta":0,"coef":"Z"},{"lambda":25,"beta":0,"coef":"Z"},{"lambda":26,"beta":0,"coef":"Z"},{"lambda":27,"beta":0,"coef":"Z"},{"lambda":28,"beta":0,"coef":"Z"},{"lambda":29,"beta":0,"coef":"Z"},{"lambda":30,"beta":0,"coef":"Z"},
    {"lambda":31,"beta":0,"coef":"Z"},{"lambda":32,"beta":0,"coef":"Z"},{"lambda":33,"beta":0,"coef":"Z"},{"lambda":34,"beta":0,"coef":"Z"},{"lambda":35,"beta":0,"coef":"Z"},{"lambda":36,"beta":0,"coef":"Z"},{"lambda":37,"beta":0,"coef":"Z"},{"lambda":38,"beta":0,"coef":"Z"},{"lambda":39,"beta":0,"coef":"Z"},{"lambda":40,"beta":0,"coef":"Z"},
    {"lambda":41,"beta":0,"coef":"Z"},{"lambda":42,"beta":0,"coef":"Z"},{"lambda":43,"beta":0,"coef":"Z"},{"lambda":44,"beta":0,"coef":"Z"},{"lambda":45,"beta":0,"coef":"Z"},{"lambda":46,"beta":0,"coef":"Z"},{"lambda":47,"beta":0,"coef":"Z"},{"lambda":48,"beta":0,"coef":"Z"},{"lambda":49,"beta":0,"coef":"Z"},{"lambda":50,"beta":0,"coef":"Z"},
    {"lambda":51,"beta":0,"coef":"Z"},{"lambda":52,"beta":0,"coef":"Z"},{"lambda":53,"beta":0,"coef":"Z"},{"lambda":54,"beta":0,"coef":"Z"},{"lambda":55,"beta":0,"coef":"Z"},{"lambda":56,"beta":0,"coef":"Z"},{"lambda":57,"beta":0,"coef":"Z"},{"lambda":58,"beta":0,"coef":"Z"},{"lambda":59,"beta":0,"coef":"Z"},{"lambda":60,"beta":0,"coef":"Z"},
    {"lambda":61,"beta":0,"coef":"Z"},{"lambda":62,"beta":0,"coef":"Z"},{"lambda":63,"beta":0,"coef":"Z"},{"lambda":64,"beta":0,"coef":"Z"},{"lambda":65,"beta":0,"coef":"Z"},{"lambda":66,"beta":0,"coef":"Z"},{"lambda":67,"beta":0,"coef":"Z"},{"lambda":68,"beta":0,"coef":"Z"},{"lambda":69,"beta":0,"coef":"Z"},{"lambda":70,"beta":0,"coef":"Z"},
    {"lambda":71,"beta":0,"coef":"Z"},{"lambda":72,"beta":0,"coef":"Z"},{"lambda":73,"beta":0,"coef":"Z"},{"lambda":74,"beta":0,"coef":"Z"},{"lambda":75,"beta":0,"coef":"Z"},{"lambda":76,"beta":0,"coef":"Z"},{"lambda":77,"beta":0,"coef":"Z"},{"lambda":78,"beta":0,"coef":"Z"},{"lambda":79,"beta":0,"coef":"Z"},{"lambda":80,"beta":0,"coef":"Z"},
    {"lambda":81,"beta":0,"coef":"Z"},{"lambda":82,"beta":0,"coef":"Z"},{"lambda":83,"beta":0,"coef":"Z"},{"lambda":84,"beta":0,"coef":"Z"},{"lambda":85,"beta":0,"coef":"Z"},{"lambda":86,"beta":0,"coef":"Z"},{"lambda":87,"beta":0,"coef":"Z"},{"lambda":88,"beta":0,"coef":"Z"},{"lambda":89,"beta":0,"coef":"Z"},{"lambda":90,"beta":0,"coef":"Z"},
    {"lambda":91,"beta":0,"coef":"Z"},{"lambda":92,"beta":0,"coef":"Z"},{"lambda":93,"beta":0,"coef":"Z"},{"lambda":94,"beta":0,"coef":"Z"},{"lambda":95,"beta":0,"coef":"Z"},{"lambda":96,"beta":0,"coef":"Z"},{"lambda":97,"beta":0,"coef":"Z"},{"lambda":98,"beta":0,"coef":"Z"},{"lambda":99,"beta":0,"coef":"Z"},{"lambda":100,"beta":0,"coef":"Z"}
  ]},
  "encoding": {
    "x": {"field": "lambda", "type": "quantitative", "scale": {"domain": [-2.96, 103.96], "nice": false, "zero": false},
          "axis": {"values": [0, 20, 40, 60, 80, 100], "title": "λ₀", "titleFontSize": 19, "titlePadding": 12, "labelPadding": 8}},
    "y": {"field": "beta", "type": "quantitative", "scale": {"domain": [-3.79, 4.066], "nice": false, "zero": false},
          "axis": {"values": [-2, 0, 2, 4], "title": "β", "titleFontSize": 19, "titlePadding": 14, "labelAngle": -90, "labelAlign": "center", "labelBaseline": "bottom", "labelPadding": 12}}
  },
  "layer": [
    {
      "mark": {"type": "line", "stroke": "#b8b8b8", "strokeWidth": 1, "strokeDash": [4, 3]},
      "encoding": {"detail": {"field": "coef"}, "order": {"field": "lambda"}}
    },
    {
      "transform": [{"filter": "datum.beta != 0"}],
      "mark": {"type": "circle", "size": 34, "opacity": 1, "color": "#2297E6"}
    },
    {
      "transform": [{"filter": "datum.beta == 0"}],
      "mark": {"type": "circle", "size": 34, "opacity": 1, "color": "#DF536B"}
    },
    {
      "transform": [{"filter": "datum.lambda == 100 && indexof(datum.coef, 'X') == 0"}],
      "mark": {"type": "text", "dx": 57, "align": "center", "baseline": "middle", "fontSize": 14, "color": "#2f98e6"},
      "encoding": {"text": {"field": "coef"}}
    }
  ]
}
